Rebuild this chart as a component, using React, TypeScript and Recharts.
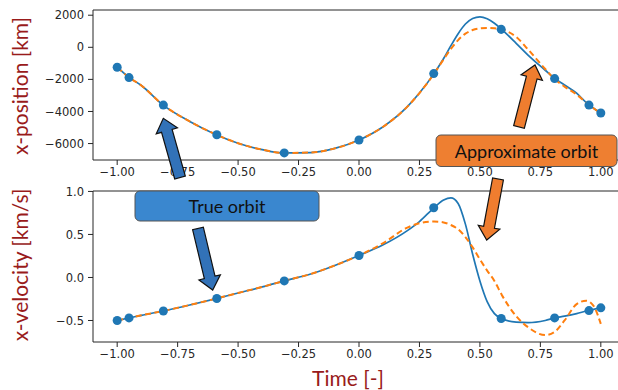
import React from "react";
import { ComposedChart, Line, Scatter, XAxis, YAxis, ReferenceLine } from "recharts";

// collocation nodes
const nodeT = [-1, -0.951, -0.809, -0.588, -0.309, 0, 0.309, 0.588, 0.809, 0.951, 1];
const nodePos = [-1242, -1888, -3602, -5447, -6584, -5776, -1640, 1118, -1950, -3602, -4099];
const nodeVel = [-0.5, -0.47, -0.39, -0.245, -0.04, 0.256, 0.81, -0.477, -0.47, -0.385, -0.353];

// curves
const curveT = [-1, -0.95, -0.9, -0.81, -0.7, -0.59, -0.5, -0.4, -0.31, -0.2, -0.1, 0, 0.1, 0.2, 0.25, 0.31, 0.35, 0.38, 0.41, 0.44, 0.47, 0.5, 0.53, 0.56, 0.59, 0.65, 0.7, 0.77, 0.81, 0.85, 0.9, 0.94, 0.97, 1];
const posTrue = [-1242, -1888, -2380, -3602, -4620, -5447, -5980, -6380, -6584, -6560, -6300, -5776, -4950, -3700, -2850, -1640, -700, 100, 850, 1450, 1800, 1900, 1780, 1500, 1118, 250, -500, -1430, -1950, -2350, -2860, -3450, -3800, -4099];
const posApprox = [-1242, -1888, -2380, -3602, -4620, -5447, -5980, -6380, -6584, -6560, -6300, -5776, -4950, -3700, -2850, -1660, -750, -100, 450, 850, 1080, 1180, 1210, 1190, 1118, 650, -150, -1350, -2000, -2450, -2950, -3450, -3800, -4099];
const velTrue = [-0.5, -0.47, -0.44, -0.39, -0.32, -0.245, -0.18, -0.11, -0.04, 0.04, 0.14, 0.256, 0.38, 0.545, 0.65, 0.81, 0.9, 0.925, 0.86, 0.62, 0.27, -0.04, -0.28, -0.42, -0.477, -0.52, -0.525, -0.5, -0.47, -0.45, -0.42, -0.39, -0.37, -0.353];
const velApprox = [-0.5, -0.47, -0.44, -0.39, -0.32, -0.245, -0.18, -0.11, -0.04, 0.04, 0.14, 0.256, 0.4, 0.58, 0.63, 0.65, 0.64, 0.61, 0.56, 0.47, 0.35, 0.21, 0.08, -0.04, -0.2, -0.45, -0.58, -0.67, -0.63, -0.5, -0.31, -0.27, -0.33, -0.54];

const xTicks = [-1, -0.75, -0.5, -0.25, 0, 0.25, 0.5, 0.75, 1];
const posTicks = [-6000, -4000, -2000, 0, 2000];
const velTicks = [-0.5, 0, 0.5, 1];

const posData = curveT.map((t, i) => ({ t, truth: posTrue[i], approx: posApprox[i] }));
const velData = curveT.map((t, i) => ({ t, truth: velTrue[i], approx: velApprox[i] }));
const posNodes = nodeT.map((t, i) => ({ t, v: nodePos[i] }));
const velNodes = nodeT.map((t, i) => ({ t, v: nodeVel[i] }));

const BLUE = "#1f77b4";
const ORANGE = "#ff7f0e";
const AXIS = "#262626";
const TITLE = "#991b1b";

const minus = (s: string) => s.replace("-", "\u2212");
const tickStyle = { fill: AXIS, fontSize: 11.5, fontFamily: "DejaVu Sans" };

function arrow(x1: number, y1: number, x2: number, y2: number, w = 11, hw = 22, hl = 13) {
  const L = Math.hypot(x2 - x1, y2 - y1);
  const ux = (x2 - x1) / L, uy = (y2 - y1) / L;
  const px = -uy, py = ux;
  const bx = x2 - ux * hl, by = y2 - uy * hl;
  const pts = [
    [x1 + px * w / 2, y1 + py * w / 2],
    [bx + px * w / 2, by + py * w / 2],
    [bx + px * hw / 2, by + py * hw / 2],
    [x2, y2],
    [bx - px * hw / 2, by - py * hw / 2],
    [bx - px * w / 2, by - py * w / 2],
    [x1 - px * w / 2, y1 - py * w / 2],
  ];
  return pts.map(p => p.join(",")).join(" ");
}

function Panel({ data, nodes, domain, ticks, fmt, height, top, xHeight }: any) {
  return (
    <div style={{ position: "absolute", left: 0, top }}>
      <ComposedChart width={640} height={height} data={data} margin={{ top: 10, right: 15, bottom: 0, left: 0 }}>
        <XAxis dataKey="t" type="number" domain={[-1.1, 1.1]} ticks={xTicks} height={xHeight}
          tickFormatter={(v: number) => minus(v.toFixed(2))} tick={tickStyle}
          stroke={AXIS} tickSize={5} tickMargin={3} />
        <YAxis type="number" domain={domain} ticks={ticks} width={93} allowDataOverflow
          tickFormatter={fmt} tick={tickStyle} stroke={AXIS} tickSize={5} tickMargin={4} />
        <ReferenceLine y={domain[1]} stroke={AXIS} />
        <Line type="monotone" dataKey="truth" stroke={BLUE} strokeWidth={1.7} dot={false} isAnimationActive={false} />
        <Line type="monotone" dataKey="approx" stroke={ORANGE} strokeWidth={2} strokeDasharray="6 3.5" dot={false} isAnimationActive={false} />
        <Scatter data={nodes} dataKey="v" fill={BLUE} isAnimationActive={false} />
      </ComposedChart>
    </div>
  );
}

export default function App() {
  const font = "Lato, 'Open Sans', sans-serif";
  return (
    <div style={{ position: "absolute", left: 0, top: 0, width: 618, height: 390, overflow: "hidden", background: "#fff" }}>
      <Panel data={posData} nodes={posNodes} domain={[-7025, 2325]} ticks={posTicks} height={190} top={0} xHeight={30}
        fmt={(v: number) => minus(String(v))} />
      <Panel data={velData} nodes={velNodes} domain={[-0.75, 1.005]} ticks={velTicks} height={210} top={181} xHeight={49}
        fmt={(v: number) => minus(v.toFixed(1))} />
      <svg width={618} height={390} style={{ position: "absolute", left: 0, top: 0, pointerEvents: "none" }}>
        <text x={28} y={86} transform="rotate(-90 28 86)" textAnchor="middle" fill={TITLE} fontSize={21} fontFamily={font}>x-position [km]</text>
        <text x={28} y={265} transform="rotate(-90 28 265)" textAnchor="middle" fill={TITLE} fontSize={21} fontFamily={font}>x-velocity [km/s]</text>
        <text x={348} y={386} textAnchor="middle" fill={TITLE} fontSize={21} fontFamily={font}>Time [-]</text>

        <polygon points={arrow(180, 177.5, 163.3, 118.3)} fill="#3272b8" stroke="#111" strokeWidth={1.2} />
        <polygon points={arrow(198, 228.5, 212.7, 290)} fill="#3272b8" stroke="#111" strokeWidth={1.2} />
        <polygon points={arrow(519, 127, 535, 65)} fill="#ef7d2f" stroke="#111" strokeWidth={1.2} />
        <polygon points={arrow(498, 179, 486.7, 240)} fill="#ef7d2f" stroke="#111" strokeWidth={1.2} />

        <rect x={135} y={191} width={184} height={30} rx={5} fill="#3a87cf" stroke="#555" strokeWidth={1} />
        <text x={227} y={212.5} textAnchor="middle" fill="#111" fontSize={18} fontFamily={font}>True orbit</text>
        <rect x={436} y={135} width={181} height={31.5} rx={5} fill="#ee7f31" stroke="#555" strokeWidth={1} />
        <text x={526.5} y={157.5} textAnchor="middle" fill="#111" fontSize={18} fontFamily={font}>Approximate orbit</text>
      </svg>
    </div>
  );
}
